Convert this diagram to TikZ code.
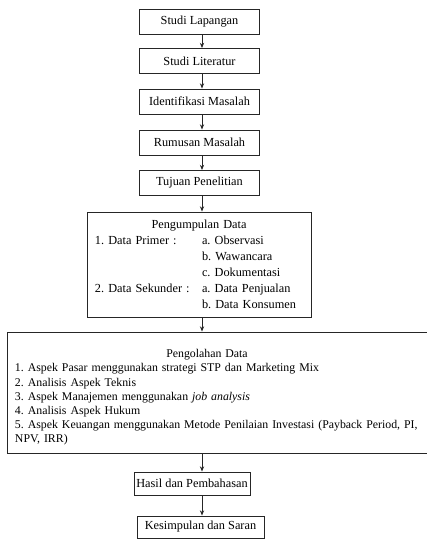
\documentclass[tikz,border=0pt]{standalone}
\usepackage{fontspec}
\setmainfont{Liberation Serif}
\usetikzlibrary{arrows.meta}
\frenchspacing

\begin{document}
\begin{tikzpicture}[x=0.03cm,y=-0.03cm,
		stepbox/.style={draw=black!85,line width=0.7pt,inner sep=0pt,minimum width=3.6cm,minimum height=0.75cm,font=\fontsize{10.5}{12.1}\selectfont},
		flow/.style={draw=black!85,line width=0.7pt,-{Stealth[length=4.5pt,width=3.6pt]}}]
		\useasboundingbox (0,0) rectangle (427,539);
		\coordinate (axis) at (202,0);

		%top column
		\node[stepbox] (lap) at (199.5,21.5) {Studi Lapangan};
		\node[stepbox] (lit) at (199.5,61) {Studi Literatur};
		\node[stepbox] (iden) at (199.5,101.5) {Identifikasi Masalah};
		\node[stepbox] (rum) at (199.5,142.5) {Rumusan Masalah};
		\node[stepbox] (tuj) at (199.5,183) {Tujuan Penelitian};

		%data boxes
		\node[stepbox,minimum width=6.72cm,minimum height=3.15cm,text width=6.24cm,inner xsep=0.24cm,align=left,font=\fontsize{10.5}{13.6}\selectfont] (kumpul) at (199,264.5)
		{\makebox[6.24cm]{Pengumpulan Data}\\
		\makebox[3.21cm][l]{1. Data Primer :}a. Observasi\\
		\hspace*{3.21cm}b. Wawancara\\
		\hspace*{3.21cm}c. Dokumentasi\\
		\makebox[3.21cm][l]{2. Data Sekunder :}a. Data Penjualan\\
		\hspace*{3.21cm}b. Data Konsumen};

		\node[stepbox,minimum width=12.66cm,minimum height=3.63cm,text width=12.18cm,inner xsep=0.24cm,align=left,font=\fontsize{10.1}{12.1}\selectfont] (olah) at (218,392.5)
		{\rule{0pt}{15.5pt}\makebox[11.52cm]{Pengolahan Data}\\
		1. Aspek Pasar menggunakan strategi STP dan Marketing Mix\\
		2. Analisis Aspek Teknis\\
		3. Aspek Manajemen menggunakan \textit{job analysis}\\
		4. Analisis Aspek Hukum\\
		\makebox[12.18cm][s]{5. Aspek Keuangan menggunakan Metode Penilaian Investasi (Payback Period, PI,}\\
		NPV, IRR)};

		%bottom column
		\node[stepbox,minimum width=3.48cm,minimum height=0.69cm] (hasil) at (192,483.5) {Hasil dan Pembahasan};
		\node[stepbox,minimum width=3.81cm,minimum height=0.66cm] (simpul) at (200.5,527) {Kesimpulan dan Saran};

		%arrows
		\foreach \a/\b in {lap/lit,lit/iden,iden/rum,rum/tuj,tuj/kumpul,kumpul/olah,olah/hasil,hasil/simpul}
		\draw[flow] (\a.south -| axis) -- (\b.north -| axis);

	\end{tikzpicture}
\end{document}
